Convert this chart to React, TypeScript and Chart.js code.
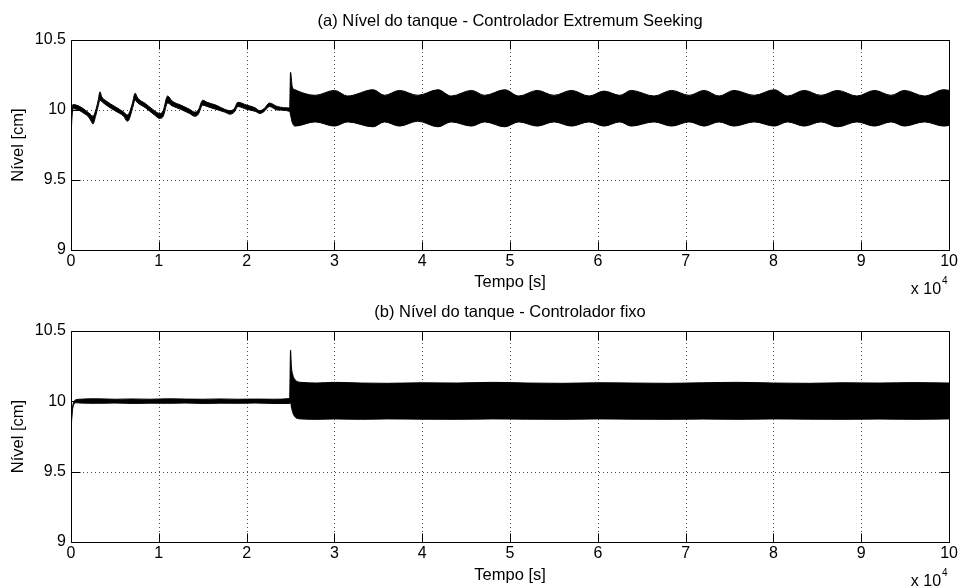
import React, { useEffect, useRef } from 'react';
import { Chart, registerables } from 'chart.js';

Chart.register(...registerables);

const FONT = "'Liberation Sans', Arial, Helvetica, sans-serif";

// ---- Axis ticks ----
const xTickValues = [0, 10000, 20000, 30000, 40000, 50000, 60000, 70000, 80000, 90000, 100000];
const yTickValues = [9, 9.5, 10, 10.5];

// ---- Titles / labels ----
const titleES = '(a) Nível do tanque - Controlador Extremum Seeking';
const titleFixo = '(b) Nível do tanque - Controlador fixo';
const xLabel = 'Tempo [s]';
const yLabel = 'Nível [cm]';

// ---- (a) Extremum Seeking: time [s], upper and lower envelope of the level [cm] ----
const tempoES = [
  0, 100, 250, 600, 1000, 1500, 2000, 2300, 2500, 2800,
  3100, 3300, 3500, 4000, 5000, 6000, 6400, 6600, 7000, 7300,
  7600, 8500, 9500, 10100, 10500, 11000, 11500, 12500, 13500, 14100,
  14500, 15000, 15500, 16500, 17500, 18100, 18600, 19000, 20000, 21000,
  21500, 22000, 22600, 23500, 24900, 25000, 25200, 25500, 27800, 30000,
  31500, 34400, 35700, 37400, 39500, 41800, 43300, 45600, 47100, 49400,
  51000, 53100, 55000, 57000, 59000, 60700, 62500, 63800, 66400, 68400,
  70400, 72100, 73800, 75500, 77800, 80100, 81600, 83500, 85400, 87300,
  89500, 91500, 93400, 94900, 97200, 99400, 100000,
];
const nivelESsup = [
  9.83, 9.99, 10.04, 10.035, 10.025, 10.005, 9.98, 9.965, 9.955, 9.995,
  10.07, 10.13, 10.095, 10.065, 10.025, 9.985, 9.965, 9.975, 10.05, 10.12,
  10.085, 10.045, 9.995, 9.975, 9.995, 10.1, 10.065, 10.035, 10.005, 9.985,
  10.0, 10.07, 10.055, 10.035, 10.005, 9.995, 10.01, 10.055, 10.035, 10.015,
  9.995, 10.01, 10.05, 10.025, 10.015, 10.27, 10.165, 10.145, 10.105, 10.14,
  10.1, 10.145, 10.105, 10.14, 10.105, 10.145, 10.1, 10.14, 10.105, 10.145,
  10.1, 10.14, 10.105, 10.14, 10.1, 10.135, 10.105, 10.14, 10.1, 10.14,
  10.105, 10.14, 10.1, 10.14, 10.105, 10.145, 10.1, 10.14, 10.105, 10.14,
  10.1, 10.14, 10.105, 10.14, 10.1, 10.145, 10.14,
];
const nivelESinf = [
  9.79, 9.94, 10.01, 10.005, 9.995, 9.975, 9.95, 9.92, 9.9, 9.955,
  10.03, 10.07, 10.06, 10.035, 9.995, 9.955, 9.92, 9.93, 10.01, 10.07,
  10.05, 10.015, 9.965, 9.94, 9.955, 10.05, 10.03, 10.005, 9.975, 9.955,
  9.97, 10.035, 10.025, 10.005, 9.985, 9.97, 9.985, 10.025, 10.005, 9.99,
  9.975, 9.99, 10.025, 10.0, 9.99, 9.965, 9.91, 9.885, 9.915, 9.885,
  9.915, 9.88, 9.915, 9.885, 9.92, 9.88, 9.915, 9.885, 9.915, 9.88,
  9.915, 9.885, 9.915, 9.885, 9.915, 9.885, 9.915, 9.885, 9.915, 9.885,
  9.915, 9.885, 9.915, 9.885, 9.915, 9.885, 9.915, 9.885, 9.915, 9.88,
  9.915, 9.885, 9.915, 9.885, 9.915, 9.885, 9.89,
];

// ---- (b) Fixed controller: time [s], upper and lower envelope of the level [cm] ----
const tempoFixo = [
  0, 80, 150, 250, 400, 600, 1000, 3000, 5000, 7000,
  9000, 11000, 13000, 15000, 17000, 19000, 21000, 23000, 24900, 25000,
  25100, 25250, 25500, 25800, 26200, 28000, 30000, 33000, 36000, 40000,
  44000, 48000, 52000, 56000, 60000, 64000, 68000, 72000, 76000, 80000,
  84000, 88000, 92000, 96000, 100000,
];
const nivelFixoSup = [
  9.81, 9.90, 9.95, 9.985, 10.005, 10.012, 10.015, 10.018, 10.015, 10.017,
  10.015, 10.018, 10.016, 10.015, 10.017, 10.015, 10.016, 10.015, 10.02, 10.365,
  10.25, 10.19, 10.155, 10.14, 10.135, 10.13, 10.135, 10.13, 10.128, 10.132,
  10.13, 10.135, 10.13, 10.128, 10.132, 10.13, 10.128, 10.132, 10.135, 10.13,
  10.128, 10.132, 10.13, 10.133, 10.13,
];
const nivelFixoInf = [
  9.79, 9.87, 9.93, 9.965, 9.985, 9.99, 9.988, 9.986, 9.988, 9.985,
  9.987, 9.986, 9.988, 9.985, 9.987, 9.986, 9.988, 9.985, 9.985, 9.99,
  9.96, 9.92, 9.89, 9.878, 9.875, 9.872, 9.875, 9.872, 9.875, 9.873,
  9.872, 9.875, 9.873, 9.872, 9.875, 9.873, 9.872, 9.874, 9.872, 9.875,
  9.873, 9.872, 9.874, 9.872, 9.875,
];

const matlabAxes = {
  id: 'matlabAxes',
  beforeDatasetsDraw(chart: any) {
    const { ctx, chartArea: a, scales } = chart;
    const x = scales.x;
    const y = scales.y;
    ctx.save();
    ctx.strokeStyle = 'rgba(0,0,0,0.7)';
    ctx.lineWidth = 1;
    ctx.setLineDash([1, 3]);
    ctx.beginPath();
    for (const v of xTickValues) {
      if (v <= x.min || v >= x.max) continue;
      const px = Math.round(x.getPixelForValue(v)) + 0.5;
      ctx.moveTo(px, a.top);
      ctx.lineTo(px, a.bottom);
    }
    for (const v of yTickValues) {
      if (v <= y.min || v >= y.max) continue;
      const py = Math.round(y.getPixelForValue(v)) + 0.5;
      ctx.moveTo(a.left, py);
      ctx.lineTo(a.right, py);
    }
    ctx.stroke();
    ctx.restore();
  },
  afterDatasetsDraw(chart: any) {
    const { ctx, chartArea: a, scales } = chart;
    const x = scales.x;
    const y = scales.y;
    const L = Math.round(a.left) + 0.5;
    const R = Math.round(a.right) + 0.5;
    const T = Math.round(a.top) + 0.5;
    const B = Math.round(a.bottom) + 0.5;
    const tl = 9;
    ctx.save();
    ctx.strokeStyle = '#000';
    ctx.lineWidth = 1;
    ctx.setLineDash([]);
    ctx.beginPath();
    ctx.rect(L, T, R - L, B - T);
    for (const v of xTickValues) {
      const px = Math.round(x.getPixelForValue(v)) + 0.5;
      ctx.moveTo(px, B);
      ctx.lineTo(px, B - tl);
      ctx.moveTo(px, T);
      ctx.lineTo(px, T + tl);
    }
    for (const v of yTickValues) {
      const py = Math.round(y.getPixelForValue(v)) + 0.5;
      ctx.moveTo(L, py);
      ctx.lineTo(L + tl, py);
      ctx.moveTo(R, py);
      ctx.lineTo(R - tl, py);
    }
    ctx.stroke();
    ctx.restore();
  },
  afterDraw(chart: any, _args: any, opts: any) {
    const { ctx, chartArea: a } = chart;
    ctx.save();
    ctx.fillStyle = '#000';
    ctx.font = `16.5px ${FONT}`;
    ctx.textAlign = 'center';
    ctx.textBaseline = 'middle';
    ctx.fillText(opts.title || '', (a.left + a.right) / 2, a.top - 19);
    // axis multiplier "x 10^4"
    ctx.font = `16px ${FONT}`;
    ctx.textAlign = 'right';
    ctx.fillText('x 10', a.right - 8, a.bottom + 39.5);
    ctx.font = `10px ${FONT}`;
    ctx.textAlign = 'left';
    ctx.fillText('4', a.right - 7, a.bottom + 31);
    ctx.restore();
  },
};

function buildConfig(
  tempo: number[],
  sup: number[],
  inf: number[],
  title: string,
  padTop: number,
  xHeight: number,
  xTitlePad: number,
): any {
  const lower = tempo.map((t, i) => ({ x: t, y: inf[i] }));
  const upper = tempo.map((t, i) => ({ x: t, y: sup[i] }));
  return {
    type: 'line',
    data: {
      datasets: [
        {
          label: 'inf',
          data: lower,
          borderColor: '#000',
          borderWidth: 1,
          pointRadius: 0,
          fill: false,
          cubicInterpolationMode: 'monotone',
        },
        {
          label: 'sup',
          data: upper,
          borderColor: '#000',
          backgroundColor: '#000',
          borderWidth: 1,
          pointRadius: 0,
          fill: '-1',
          cubicInterpolationMode: 'monotone',
        },
      ],
    },
    options: {
      responsive: false,
      animation: false,
      events: [],
      layout: { padding: { top: padTop, right: 10, left: 0, bottom: 0 } },
      plugins: {
        legend: { display: false },
        tooltip: { enabled: false },
        title: { display: false },
        matlabAxes: { title },
      },
      scales: {
        x: {
          type: 'linear',
          min: 0,
          max: 100000,
          grid: { display: false, drawTicks: false },
          border: { display: false },
          afterBuildTicks: (s: any) => {
            s.ticks = xTickValues.map((v) => ({ value: v }));
          },
          afterFit: (s: any) => {
            s.height = xHeight;
          },
          ticks: {
            color: '#000',
            padding: 2,
            maxRotation: 0,
            autoSkip: false,
            font: { family: FONT, size: 16 },
            callback: (v: any) => String(Number(v) / 10000),
          },
          title: {
            display: true,
            text: xLabel,
            color: '#000',
            font: { family: FONT, size: 16.5 },
            padding: { top: 0, bottom: xTitlePad },
          },
        },
        y: {
          type: 'linear',
          min: 9,
          max: 10.5,
          grid: { display: false, drawTicks: false },
          border: { display: false },
          afterBuildTicks: (s: any) => {
            s.ticks = yTickValues.map((v) => ({ value: v }));
          },
          afterFit: (s: any) => {
            s.width = 71;
          },
          ticks: {
            color: '#000',
            padding: 5,
            autoSkip: false,
            font: { family: FONT, size: 16 },
            callback: (v: any) => String(v),
          },
          title: {
            display: true,
            text: yLabel,
            color: '#000',
            font: { family: FONT, size: 16.5 },
            padding: { top: 9, bottom: 0 },
          },
        },
      },
    },
    plugins: [matlabAxes],
  };
}

export default function App() {
  const topRef = useRef<HTMLCanvasElement | null>(null);
  const botRef = useRef<HTMLCanvasElement | null>(null);

  useEffect(() => {
    const c1 = new Chart(
      topRef.current as HTMLCanvasElement,
      buildConfig(tempoES, nivelESsup, nivelESinf, titleES, 40, 44, 1.5),
    );
    const c2 = new Chart(
      botRef.current as HTMLCanvasElement,
      buildConfig(tempoFixo, nivelFixoSup, nivelFixoInf, titleFixo, 37, 46, 2.5),
    );
    return () => {
      c1.destroy();
      c2.destroy();
    };
  }, []);

  return (
    <div
      style={{
        position: 'absolute',
        left: 0,
        top: 0,
        width: 960,
        height: 588,
        background: '#fff',
      }}
    >
      <canvas ref={topRef} width={960} height={294} style={{ display: 'block', width: 960, height: 294 }} />
      <canvas ref={botRef} width={960} height={294} style={{ display: 'block', width: 960, height: 294 }} />
    </div>
  );
}
